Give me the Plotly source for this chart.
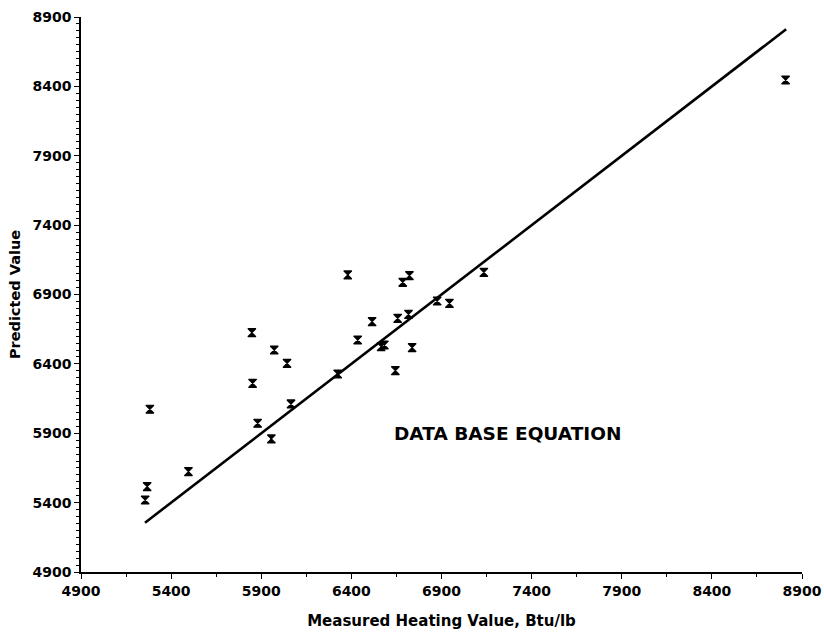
import plotly.graph_objects as go

# Measured vs. predicted heating value (Btu/lb)
measured = [5256, 5267, 5282, 5496, 5848, 5972, 6043, 5852, 6065, 5880, 5956,
            6380, 6722, 6685, 7135, 6876, 6944, 6515, 6657, 6717, 6435, 6565,
            6583, 6737, 6644, 6324, 8809]
predicted = [5419, 5515, 6073, 5623, 6625, 6500, 6404, 6260, 6111, 5972, 5859,
             7041, 7036, 6988, 7060, 6853, 6836, 6704, 6728, 6757, 6572, 6524,
             6536, 6517, 6351, 6327, 8446]

# Line of equality drawn across the data span
fit_x = [5255, 8812]
fit_y = [5255, 8812]

tick_vals = [4900, 5400, 5900, 6400, 6900, 7400, 7900, 8400, 8900]

font_family = "DejaVu Sans"

fig = go.Figure()
fig.add_trace(go.Scatter(x=fit_x, y=fit_y, mode="lines",
                         line=dict(color="black", width=2.6), hoverinfo="skip"))
fig.add_trace(go.Scatter(x=measured, y=predicted, mode="markers",
                         marker=dict(symbol="hourglass", size=8, color="black",
                                     line=dict(width=1.2, color="black"))))

fig.add_annotation(x=7267, y=5895, text="DATA BASE EQUATION", showarrow=False,
                   font=dict(family=font_family, size=18.5, color="black",
                             weight="bold"))

axis_common = dict(
    range=[4900, 8900], tickvals=tick_vals, ticks="outside", ticklen=5,
    tickwidth=1.2, tickcolor="black", showline=True, linecolor="black",
    linewidth=1.5, showgrid=False, zeroline=False, automargin=False,
    tickfont=dict(family=font_family, size=14, color="black", weight="bold"),
)

fig.update_layout(
    width=824, height=635,
    margin=dict(l=81, r=22, t=17, b=63),
    plot_bgcolor="white", paper_bgcolor="white",
    showlegend=False,
    xaxis=dict(**axis_common,
               minor=dict(dtick=250, tick0=4900, ticks="outside", ticklen=3,
                          tickcolor="black", showgrid=False),
               title=dict(text="Measured Heating Value, Btu/lb", standoff=18,
                          font=dict(family=font_family, size=15, color="black",
                                    weight="bold"))),
    yaxis=dict(**axis_common,
               minor=dict(dtick=50, tick0=4900, ticks="outside", ticklen=3,
                          tickcolor="black", showgrid=False),
               title=dict(text="Predicted Value", standoff=8,
                          font=dict(family=font_family, size=14.5, color="black",
                                    weight="bold"))),
)

fig.write_html("out.html")
